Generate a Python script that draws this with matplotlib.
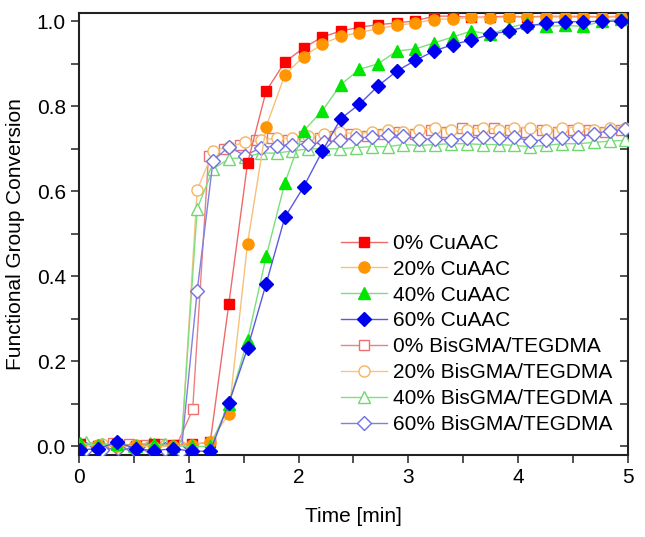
import matplotlib
matplotlib.use("Agg")
import matplotlib.pyplot as plt
import numpy as np

plt.rcParams['font.family'] = ['Liberation Sans', 'DejaVu Sans']

# sampling grids (min)
t_cu = 0.005 + 0.17 * np.arange(30)
t_open = 0.065 + 0.1445 * np.arange(35)
t_sq = 0.024 + 0.1445 * np.arange(35)

# CuAAC series (filled markers)
cu0 = [0.005, 0.0, 0.006, 0.002, 0.005, 0.003, 0.005,
       0.01, 0.336, 0.666, 0.836, 0.904, 0.937, 0.963, 0.977, 0.986, 0.992,
       0.996, 1.001, 1.012, 1.012, 1.009, 1.01, 1.012, 1.01, 1.012, 1.011,
       1.012, 1.01, 1.012]
cu20 = [0.0, 0.004, 0.0, 0.003, -0.002, 0.002, 0.004,
        0.011, 0.077, 0.477, 0.752, 0.874, 0.917, 0.946, 0.965, 0.973, 0.983,
        0.99, 0.996, 1.004, 1.006, 1.009, 1.008, 1.01, 1.009, 1.01, 1.01,
        1.009, 1.01, 1.01]
cu40 = [0.008, 0.003, 0.006, 0.0, 0.005, 0.002, 0.0,
        0.0, 0.1, 0.25, 0.447, 0.62, 0.742, 0.789, 0.851, 0.887, 0.90,
        0.93, 0.935, 0.949, 0.963, 0.977, 0.969, 0.985, 0.995, 0.988, 0.99,
        0.988, 1.0, 1.005]
cu60 = [-0.008, -0.005, 0.01, -0.005, -0.01, -0.005, -0.011,
        -0.011, 0.102, 0.231, 0.383, 0.539, 0.61, 0.694, 0.771, 0.805, 0.848,
        0.883, 0.908, 0.93, 0.945, 0.956, 0.969, 0.977, 0.988, 0.996, 0.999,
        0.999, 1.0, 1.0]

# BisGMA/TEGDMA series (open markers)
bis0 = [0.005, 0.0, 0.008, 0.005, 0.003, 0.006, 0.004,
        0.087, 0.684, 0.70, 0.71, 0.72, 0.725, 0.72, 0.73, 0.725, 0.73, 0.735,
        0.73, 0.735, 0.74, 0.735, 0.745, 0.74, 0.75, 0.745, 0.75, 0.745,
        0.74, 0.745, 0.74, 0.745, 0.745, 0.74, 0.745]
bis20 = [0.0, 0.005, -0.003, 0.002, 0.0, 0.004, -0.002,
         0.603, 0.694, 0.705, 0.715, 0.72, 0.725, 0.725, 0.73, 0.735, 0.74,
         0.735, 0.74, 0.745, 0.74, 0.745, 0.75, 0.745, 0.745, 0.75, 0.745,
         0.75, 0.75, 0.745, 0.75, 0.75, 0.745, 0.75, 0.75]
bis40 = [0.01, 0.005, 0.008, 0.002, 0.009, 0.006, 0.004,
         0.559, 0.653, 0.676, 0.68, 0.69, 0.69, 0.695, 0.70, 0.70, 0.70,
         0.703, 0.705, 0.705, 0.71, 0.708, 0.71, 0.712, 0.712, 0.71, 0.71,
         0.708, 0.705, 0.708, 0.712, 0.712, 0.715, 0.718, 0.72]
bis60 = [-0.005, -0.008, -0.004, -0.006, -0.003, -0.007, -0.01,
         0.366, 0.672, 0.705, 0.684, 0.702, 0.707, 0.71, 0.711, 0.715, 0.721,
         0.726, 0.727, 0.733, 0.731, 0.723, 0.723, 0.721, 0.726, 0.727, 0.726,
         0.727, 0.719, 0.721, 0.726, 0.728, 0.736, 0.742, 0.746]

fig = plt.figure(figsize=(6.45, 5.37), dpi=100)
ax = fig.add_axes([0.1225, 0.1527, 0.851, 0.8236])

ax.plot(t_cu, cu0, '-s', color='#f06a6a', lw=1, mfc='#ff0000', mec='#ff0000', ms=7, label='0% CuAAC', zorder=4)
ax.plot(t_cu, cu20, '-o', color='#f7c07a', lw=1, mfc='#ff9500', mec='#ff9500', ms=8, label='20% CuAAC', zorder=4)
ax.plot(t_cu, cu40, '-^', color='#7be07b', lw=1, mfc='#00e600', mec='#00e600', ms=8.5, label='40% CuAAC', zorder=4)
ax.plot(t_cu, cu60, '-D', color='#5a5ae0', lw=1, mfc='#0000f0', mec='#0000f0', ms=7.5, label='60% CuAAC', zorder=4)
ax.plot(t_sq, bis0, '-s', color='#ee8080', lw=1, mfc='white', mec='#ee7070', ms=7, label='0% BisGMA/TEGDMA', zorder=3)
ax.plot(t_open, bis20, '-o', color='#f5c585', lw=1, mfc='white', mec='#f5b560', ms=8, label='20% BisGMA/TEGDMA', zorder=3)
ax.plot(t_open, bis40, '-^', color='#80e080', lw=1, mfc='white', mec='#70d870', ms=8.5, label='40% BisGMA/TEGDMA', zorder=3)
ax.plot(t_open, bis60, '-D', color='#8080e0', lw=1, mfc='white', mec='#7070e0', ms=7.5, label='60% BisGMA/TEGDMA', zorder=3)

ax.set_xlim(0, 5)
ax.set_ylim(-0.02, 1.02)
ax.set_xticks(np.arange(0, 5.01, 1))
ax.set_xticks(np.arange(0.5, 5, 1), minor=True)
ax.set_yticks(np.arange(0, 1.01, 0.2))
ax.set_yticks(np.arange(0.1, 1, 0.2), minor=True)
ax.yaxis.set_major_formatter(matplotlib.ticker.FormatStrFormatter('%.1f'))
ax.tick_params(which='both', direction='out', length=6, width=1.2, labelsize=15, color='#333333')
ax.tick_params(which='both', right=True, labelright=False)
for sp in ax.spines.values():
    sp.set_linewidth(1.5)
    sp.set_color('#222222')

ax.set_xlabel('Time [min]', fontsize=15, labelpad=14)
ax.set_ylabel('Functional Group Conversion', fontsize=15, labelpad=8)

ax.legend(loc='upper left', bbox_to_anchor=(0.477, 0.5), frameon=False, fontsize=15,
          handlelength=2.2, handletextpad=0.3, labelspacing=0.33, borderpad=0, borderaxespad=0)

fig.canvas.draw()
# right ticks point inward
for t in ax.yaxis.get_major_ticks() + ax.yaxis.get_minor_ticks():
    t.tick2line.set_marker(matplotlib.lines.TICKLEFT)

fig.savefig('out.png', dpi=100)
